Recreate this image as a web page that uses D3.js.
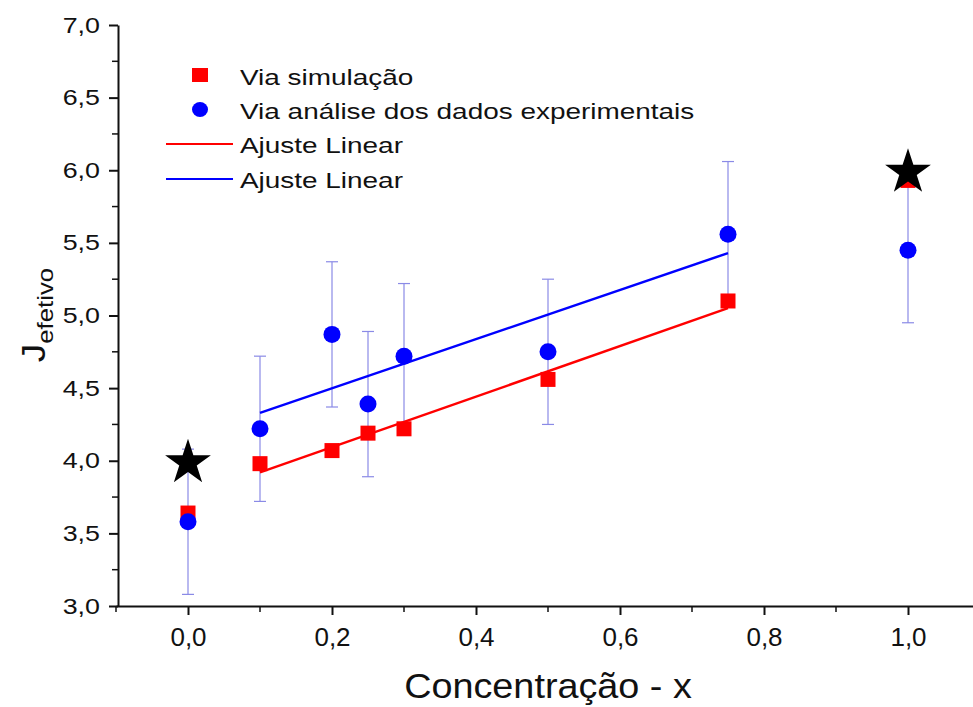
<!DOCTYPE html>
<html>
<head>
<meta charset="utf-8">
<script src="https://cdn.jsdelivr.net/npm/d3@7"></script>
<style>
body { margin: 0; background: #fff; }
svg { display: block; }
text { font-family: "Liberation Sans", Arial, sans-serif; fill: #111; }
</style>
</head>
<body>
<svg></svg>
<script>
var width = 973;
var height = 707;

// values
var concX = [0, 0.1, 0.2, 0.25, 0.3, 0.5, 0.75, 1.0];
var simulacao = [3.64, 3.98, 4.07, 4.19, 4.22, 4.56, 5.10, 5.93];
var experimental = [3.58, 4.22, 4.87, 4.39, 4.72, 4.75, 5.56, 5.45];
var expErro = [0.5, 0.5, 0.5, 0.5, 0.5, 0.5, 0.5, 0.5];
var estrelaX = [0, 1.0];
var estrelaY = [4.0, 6.0];
var ajusteX = [0.1, 0.75];
var ajusteVermelho = [3.92, 5.05];
var ajusteAzul = [4.33, 5.43];
var xTicks = [0, 0.2, 0.4, 0.6, 0.8, 1.0];
var yTicks = [3.0, 3.5, 4.0, 4.5, 5.0, 5.5, 6.0, 6.5, 7.0];
var legenda = ["Via simulação", "Via análise dos dados experimentais", "Ajuste Linear", "Ajuste Linear"];

var svg = d3.select('svg')
    .attr('width', width)
    .attr('height', height);

var x = d3.scaleLinear().domain([-0.1, 1.1]).range([116, 980]);
var y = d3.scaleLinear().domain([3, 7]).range([606, 25]);

var fmt = function(d) { return d3.format('.1f')(d).replace('.', ','); };

// minor ticks
var xMinor = d3.range(-0.1, 1.1001, 0.1).filter(function(d){ return Math.abs(Math.round(d*10) % 2) == 1; });
svg.append('g').selectAll('line')
    .data(xMinor)
  .enter().append('line')
    .attr('x1', function(d){ return x(d); })
    .attr('x2', function(d){ return x(d); })
    .attr('y1', 606).attr('y2', 612)
    .attr('stroke', '#111').attr('stroke-width', 1.5);
var yMinor = d3.range(3.25, 7, 0.5);
svg.append('g').selectAll('line')
    .data(yMinor)
  .enter().append('line')
    .attr('x1', 112).attr('x2', 118)
    .attr('y1', function(d){ return y(d); })
    .attr('y2', function(d){ return y(d); })
    .attr('stroke', '#111').attr('stroke-width', 1.5);

// axes
var xAxis = svg.append('g')
    .attr('transform', 'translate(0,606)')
    .call(d3.axisBottom(x).tickValues(xTicks).tickFormat(fmt).tickSize(9).tickSizeOuter(0).tickPadding(13));
xAxis.selectAll('text').style('font-size', '26px').attr('fill', '#111');

var yAxis = svg.append('g')
    .attr('transform', 'translate(118,0)')
    .call(d3.axisLeft(y).tickValues(yTicks).tickFormat(fmt).tickSize(9).tickSizeOuter(0));
yAxis.selectAll('text')
    .attr('x', 0)
    .attr('transform', 'translate(-18,0) scale(1.22,1)')
    .style('font-size', '22px').attr('fill', '#111');

svg.selectAll('.domain').attr('stroke', '#111').attr('stroke-width', 2);
svg.selectAll('.tick line').attr('stroke', '#111').attr('stroke-width', 2);

// axis titles
svg.append('text')
    .attr('transform', 'translate(548,698) scale(1.08,1)')
    .attr('text-anchor', 'middle')
    .style('font-size', '35px')
    .text('Concentração - x');

var yt = svg.append('text')
    .attr('transform', 'translate(45,315) rotate(-90) scale(1.12,1)')
    .attr('text-anchor', 'middle')
    .style('font-size', '33px');
yt.append('tspan').text('J');
yt.append('tspan').attr('dy', 8).style('font-size', '23px').text('efetivo');

var pontos = concX.map(function(d, i) {
    return {x: d, sim: simulacao[i], exp: experimental[i], err: expErro[i]};
});

// error bars
var eb = svg.append('g').selectAll('g')
    .data(pontos)
  .enter().append('g')
    .attr('stroke', '#8a8ae6').attr('stroke-width', 1.2);
eb.append('line')
    .attr('x1', function(d){ return x(d.x); })
    .attr('x2', function(d){ return x(d.x); })
    .attr('y1', function(d){ return y(d.exp + d.err); })
    .attr('y2', function(d){ return y(d.exp - d.err); });
eb.append('line')
    .attr('x1', function(d){ return x(d.x) - 6; })
    .attr('x2', function(d){ return x(d.x) + 6; })
    .attr('y1', function(d){ return y(d.exp + d.err); })
    .attr('y2', function(d){ return y(d.exp + d.err); });
eb.append('line')
    .attr('x1', function(d){ return x(d.x) - 6; })
    .attr('x2', function(d){ return x(d.x) + 6; })
    .attr('y1', function(d){ return y(d.exp - d.err); })
    .attr('y2', function(d){ return y(d.exp - d.err); });

// fit lines
var linha = d3.line()
    .x(function(d){ return x(d[0]); })
    .y(function(d){ return y(d[1]); });
svg.append('path')
    .attr('d', linha(d3.zip(ajusteX, ajusteVermelho)))
    .attr('stroke', '#f00').attr('stroke-width', 2.4).attr('fill', 'none');
svg.append('path')
    .attr('d', linha(d3.zip(ajusteX, ajusteAzul)))
    .attr('stroke', '#00f').attr('stroke-width', 2.4).attr('fill', 'none');

// squares
svg.append('g').selectAll('rect')
    .data(pontos)
  .enter().append('rect')
    .attr('x', function(d){ return x(d.x) - 7.5; })
    .attr('y', function(d){ return y(d.sim) - 7.5; })
    .attr('width', 15).attr('height', 15)
    .attr('fill', '#f00');

// circles
svg.append('g').selectAll('circle')
    .data(pontos)
  .enter().append('circle')
    .attr('cx', function(d){ return x(d.x); })
    .attr('cy', function(d){ return y(d.exp); })
    .attr('r', 8.5)
    .attr('fill', '#00f');

// stars
var star = d3.symbol().type(d3.symbolStar).size(650);
svg.append('g').selectAll('path')
    .data(d3.zip(estrelaX, estrelaY))
  .enter().append('path')
    .attr('d', star)
    .attr('transform', function(d){ return 'translate(' + x(d[0]) + ',' + (y(d[1]) + 2) + ')'; })
    .attr('fill', '#000');

// legend
var leg = svg.append('g');
leg.append('rect').attr('x', 192).attr('y', 68).attr('width', 16).attr('height', 14).attr('fill', '#f00');
leg.append('ellipse').attr('cx', 200).attr('cy', 109.5).attr('rx', 8).attr('ry', 7.5).attr('fill', '#00f');
leg.append('line').attr('x1', 166).attr('x2', 233).attr('y1', 144).attr('y2', 144).attr('stroke', '#f00').attr('stroke-width', 2);
leg.append('line').attr('x1', 166).attr('x2', 233).attr('y1', 179).attr('y2', 179).attr('stroke', '#00f').attr('stroke-width', 2);
var legY = [84.5, 118.5, 153, 188];
leg.selectAll('text')
    .data(legenda)
  .enter().append('text')
    .attr('transform', function(d, i){ return 'translate(240,' + legY[i] + ') scale(1.27,1)'; })
    .style('font-size', '22px')
    .text(function(d){ return d; });
</script>
</body>
</html>
